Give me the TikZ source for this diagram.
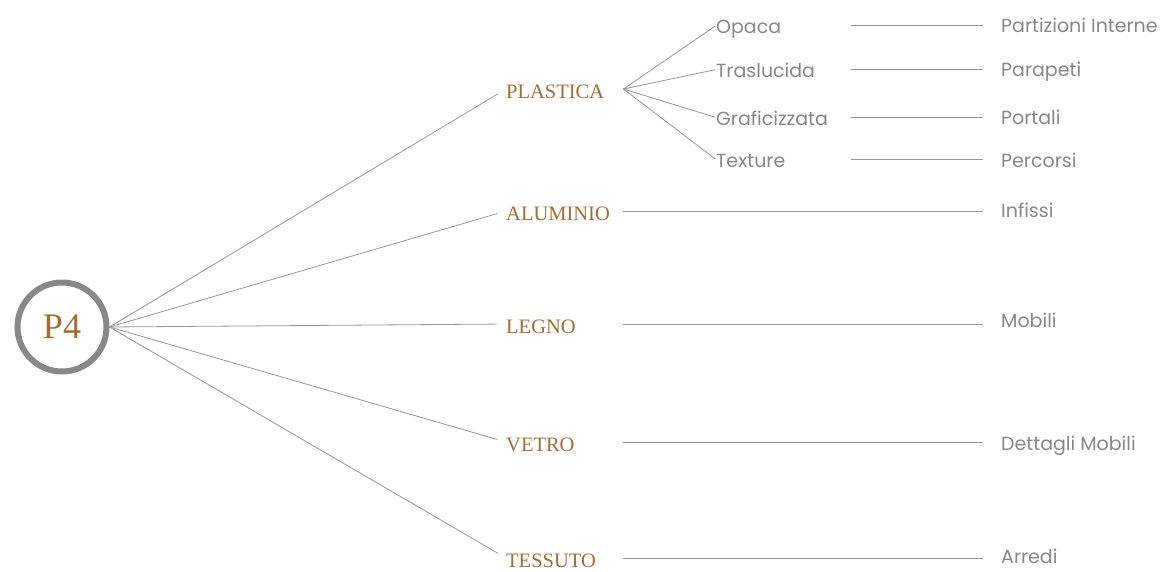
\documentclass[tikz,border=0pt]{standalone}
\usepackage{fontspec}
\setmainfont{Liberation Serif}
\newfontfamily\subfont{Poppins}
\usetikzlibrary{positioning}
\definecolor{bronzo}{RGB}{163,108,52}
\definecolor{grigio}{RGB}{135,135,135}
\definecolor{linea}{RGB}{150,150,150}
\definecolor{anello}{RGB}{136,136,136}

\begin{document}
\begin{tikzpicture}[x=1pt,y=-1pt,
    materiale/.style={anchor=base west,inner sep=0pt,text width=117pt,text height=18pt,text depth=0pt,
        text=bronzo,font=\fontsize{20.5}{20.5}\selectfont},
    tipo/.style={anchor=base west,inner sep=0pt,text width=135pt,text height=15pt,text depth=0pt,
        text=grigio,font=\subfont\fontsize{19}{19}\selectfont},
    uso/.style={anchor=base west,inner sep=0pt,text height=15pt,text depth=0pt,
        text=grigio,font=\subfont\fontsize{19}{19}\selectfont},
    ramo/.style={draw=linea,line width=0.8pt}]
    % Frame of the page:
    \useasboundingbox (0,0) rectangle (1164,571);

    % Centre: the ring with its label
    \node [circle,draw=anello,line width=6pt,minimum size=89pt,inner sep=0pt,
        text=bronzo,font=\fontsize{36}{36}\selectfont] (p4) at (62,327) {P4};

    % Materials:
    \node [materiale] (plastica) at (506,98)  {PLASTICA};
    \node [materiale] (alluminio) at (506,220) {ALUMINIO};
    \node [materiale] (legno)    at (506,333) {LEGNO};
    \node [materiale] (vetro)    at (506,451) {VETRO};
    \node [materiale] (tessuto)  at (506,567) {TESSUTO};

    % Kinds of plastic:
    \node [tipo] (opaca)       at (716,33)  {Opaca};
    \node [tipo] (traslucida)  at (716,77)  {Traslucida};
    \node [tipo] (graficizzata) at (716,125) {Graficizzata};
    \node [tipo] (texture)     at (716,167) {Texture};

    % Uses, on the right:
    \node [uso] (partizioni) at (1001,32)  {Partizioni Interne};
    \node [uso] (parapetti)  at (1001,76)  {Parapeti};
    \node [uso] (portali)    at (1001,124) {Portali};
    \node [uso] (percorsi)   at (1001,167) {Percorsi};
    \node [uso] (infissi)    at (1001,217) {Infissi};
    \node [uso] (mobili)     at (1001,327) {Mobili};
    \node [uso] (dettagli)   at (1001,450) {Dettagli Mobili};
    \node [uso] (arredi)     at (1001,563) {Arredi};

    % Branches from the ring to each material:
    \foreach \m in {plastica,alluminio,legno,vetro,tessuto}
        \draw [ramo,shorten >=9pt] (p4.east) -- (\m.west);

    % Fan of PLASTICA:
    \foreach \t in {opaca,traslucida,graficizzata,texture}
        \draw [ramo,shorten >=1pt] (plastica.east) -- (\t.west);

    % Straight lines towards the uses (kept level with the left end):
    \foreach \a/\b in {opaca/partizioni,traslucida/parapetti,graficizzata/portali,texture/percorsi,
        alluminio/infissi,legno/mobili,vetro/dettagli,tessuto/arredi}
        \draw [ramo,shorten >=18pt] (\a.east) -- (\a.east -| \b.west);
\end{tikzpicture}
\end{document}
